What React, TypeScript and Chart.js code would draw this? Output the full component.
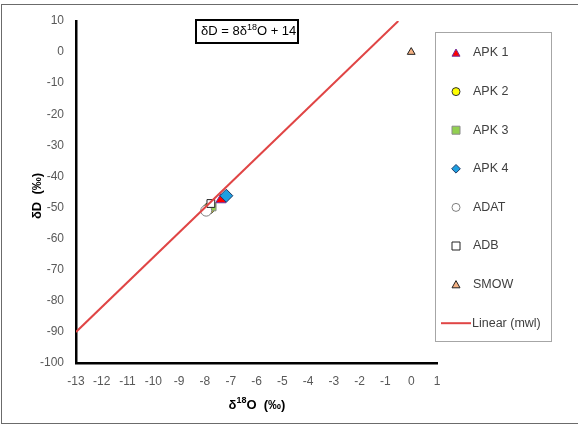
import React, { useEffect, useRef } from "react";
import { Chart, registerables } from "chart.js";

Chart.register(...registerables);

const seriesNames = ["APK 1", "APK 2", "APK 3", "APK 4", "ADAT", "ADB", "SMOW"];
const xValues = [-7.38, -7.85, -7.72, -7.17, -7.95, -7.77, 0];
const yValues = [-47.5, -50.3, -49.8, -46.2, -51.0, -48.7, 0];
const pointStyles = ["triangle", "circle", "rect", "rectRot", "circle", "rect", "triangle"];
const fills = ["#ff0000", "#ffff00", "#92d050", "#1e9fe0", "#ffffff", "#ffffff", "#f4b183"];
const strokes = ["#7030a0", "#333333", "#8a8a8a", "#1f3864", "#7f7f7f", "#222222", "#222222"];
const radii = [6, 5.5, 5.5, 6.5, 5.5, 5.5, 4.5];

const lineName = "Linear (mwl)";
const lineX = [-13, -0.5];
const lineY = lineX.map((x) => 8 * x + 14);

const xMin = -13, xMax = 1, yMin = -100, yMax = 10;

const FONT = "'Liberation Sans', Arial, sans-serif";

function drawMarker(ctx: CanvasRenderingContext2D, style: string, x: number, y: number, r: number, fill: string, stroke: string) {
  ctx.save();
  ctx.beginPath();
  if (style === "circle") {
    ctx.arc(x, y, r, 0, Math.PI * 2);
  } else if (style === "rect") {
    ctx.rect(x - r, y - r, 2 * r, 2 * r);
  } else if (style === "rectRot") {
    ctx.moveTo(x, y - r * 1.2);
    ctx.lineTo(x + r * 1.2, y);
    ctx.lineTo(x, y + r * 1.2);
    ctx.lineTo(x - r * 1.2, y);
    ctx.closePath();
  } else if (style === "triangle") {
    ctx.moveTo(x, y - r);
    ctx.lineTo(x + r, y + r * 0.8);
    ctx.lineTo(x - r, y + r * 0.8);
    ctx.closePath();
  }
  ctx.fillStyle = fill;
  ctx.fill();
  ctx.lineWidth = 1;
  ctx.strokeStyle = stroke;
  ctx.stroke();
  ctx.restore();
}

const overlayPlugin = {
  id: "overlay",
  afterDraw(chart: any) {
    const ctx: CanvasRenderingContext2D = chart.ctx;
    ctx.save();
    // outer border
    ctx.strokeStyle = "#6b6b6b";
    ctx.lineWidth = 1;
    ctx.strokeRect(1.5, 4.5, 640, 419);

    // equation box
    ctx.strokeStyle = "#000";
    ctx.lineWidth = 2;
    ctx.strokeRect(196, 20, 102, 23);
    ctx.fillStyle = "#000";
    ctx.textBaseline = "middle";
    ctx.textAlign = "left";
    const eqY = 31.5;
    let ex = 201;
    ctx.font = `13px ${FONT}`;
    const parts1 = "\u03b4D = 8\u03b4";
    ctx.fillText(parts1, ex, eqY);
    ex += ctx.measureText(parts1).width;
    ctx.font = `9px ${FONT}`;
    ctx.fillText("18", ex, eqY - 4);
    ex += ctx.measureText("18").width;
    ctx.font = `13px ${FONT}`;
    ctx.fillText("O + 14", ex, eqY);

    // x axis title
    ctx.fillStyle = "#000";
    const xt1 = "\u03b4";
    const xt2 = "18";
    const xt3 = "O  (\u2030)";
    ctx.font = `bold 13px ${FONT}`;
    const w1 = ctx.measureText(xt1).width;
    const w3 = ctx.measureText(xt3).width;
    ctx.font = `bold 9px ${FONT}`;
    const w2 = ctx.measureText(xt2).width;
    let tx = 257 - (w1 + w2 + w3) / 2;
    const ty = 405;
    ctx.font = `bold 13px ${FONT}`;
    ctx.fillText(xt1, tx, ty);
    tx += w1;
    ctx.font = `bold 9px ${FONT}`;
    ctx.fillText(xt2, tx, ty - 4);
    tx += w2;
    ctx.font = `bold 13px ${FONT}`;
    ctx.fillText(xt3, tx, ty);

    // y axis title
    ctx.save();
    ctx.translate(37, 196);
    ctx.rotate(-Math.PI / 2);
    ctx.textAlign = "center";
    ctx.font = `bold 13px ${FONT}`;
    ctx.fillText("\u03b4D  (\u2030)", 0, 0);
    ctx.restore();

    // legend
    ctx.strokeStyle = "#a6a6a6";
    ctx.lineWidth = 1;
    ctx.strokeRect(435.5, 32.5, 116, 309);
    ctx.font = `12.5px ${FONT}`;
    ctx.fillStyle = "#404040";
    ctx.textAlign = "left";
    const legY0 = 53;
    const legStep = 38.6;
    for (let i = 0; i < seriesNames.length; i++) {
      const y = legY0 + i * legStep;
      drawMarker(ctx, pointStyles[i], 456, y, i === 3 ? 3.6 : 4, fills[i], strokes[i]);
      ctx.fillStyle = "#404040";
      ctx.fillText(seriesNames[i], 473, y);
    }
    const ly = legY0 + seriesNames.length * legStep;
    ctx.strokeStyle = "#e04545";
    ctx.lineWidth = 2;
    ctx.beginPath();
    ctx.moveTo(441, ly);
    ctx.lineTo(471, ly);
    ctx.stroke();
    ctx.fillStyle = "#404040";
    ctx.fillText(lineName, 472, ly);
    ctx.restore();
  },
};

export default function App() {
  const ref = useRef<HTMLCanvasElement | null>(null);
  useEffect(() => {
    if (!ref.current) return;
    const datasets: any[] = [
      {
        label: lineName,
        data: lineX.map((x, i) => ({ x, y: lineY[i] })),
        showLine: true,
        borderColor: "#e04545",
        borderWidth: 2,
        pointRadius: 0,
        order: 0,
      },
    ];
    seriesNames.forEach((name, i) => {
      datasets.push({
        label: name,
        data: [{ x: xValues[i], y: yValues[i] }],
        pointStyle: pointStyles[i],
        pointRadius: radii[i],
        backgroundColor: fills[i],
        borderColor: strokes[i],
        borderWidth: 1,
        order: seriesNames.length - i,
      });
    });
    const chart = new Chart(ref.current, {
      type: "scatter",
      data: { datasets },
      options: {
        animation: false,
        responsive: false,
        devicePixelRatio: 1,
        layout: { padding: { left: 0, top: 21, right: 141, bottom: 23 } },
        plugins: { legend: { display: false }, tooltip: { enabled: false } },
        scales: {
          x: {
            type: "linear",
            min: xMin,
            max: xMax,
            ticks: { stepSize: 1, color: "#595959", font: { family: FONT, size: 12 }, padding: 11, maxRotation: 0, autoSkip: false },
            grid: { display: false, drawTicks: false },
            border: { display: true, color: "#000", width: 2.5 },
            afterFit: (s: any) => { s.height = 40; },
          },
          y: {
            type: "linear",
            min: yMin,
            max: yMax,
            ticks: { stepSize: 10, color: "#595959", font: { family: FONT, size: 12 }, padding: 12, autoSkip: false },
            grid: { display: false, drawTicks: false },
            border: { display: true, color: "#000", width: 2.5 },
            afterFit: (s: any) => { s.width = 76; },
          },
        },
      },
      plugins: [overlayPlugin],
    });
    return () => chart.destroy();
  }, []);
  return (
    <div style={{ position: "fixed", left: 0, top: 0, width: 578, height: 426, background: "#fff" }}>
      <canvas ref={ref} width={578} height={426} style={{ width: 578, height: 426, display: "block" }} />
    </div>
  );
}
